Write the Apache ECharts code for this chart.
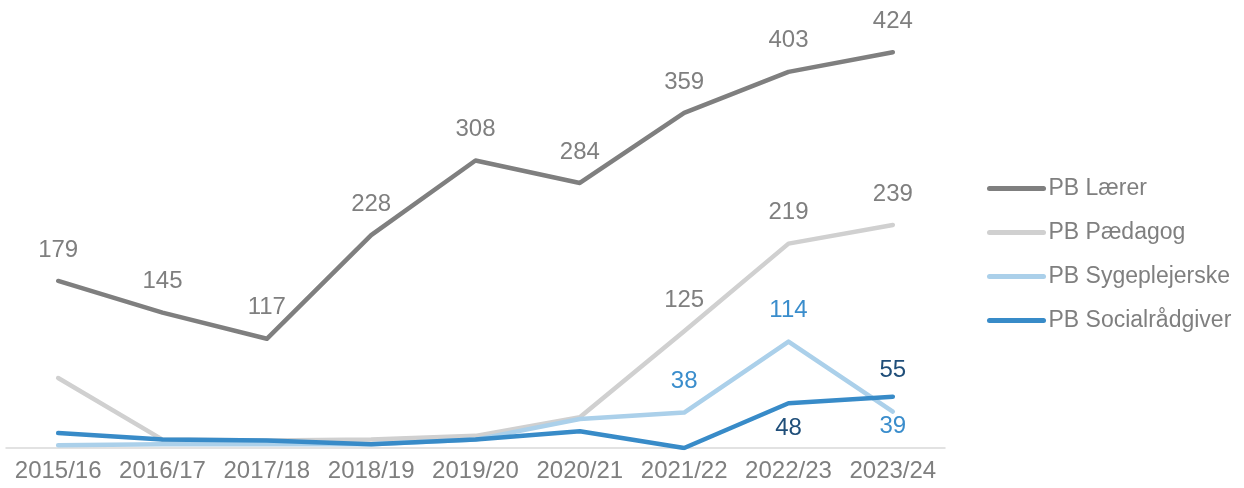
<!DOCTYPE html>
<html>
<head>
<meta charset="utf-8">
<script src="https://cdn.jsdelivr.net/npm/echarts@6/dist/echarts.min.js"></script>
<style>
  html, body { margin: 0; padding: 0; background: #ffffff; }
  #chart { width: 1244px; height: 488px; }
</style>
</head>
<body>
<div id="chart"></div>
<script>
var categories = ["2015/16", "2016/17", "2017/18", "2018/19", "2019/20", "2020/21", "2021/22", "2022/23", "2023/24"];
var seriesNames = ["PB Lærer", "PB Pædagog", "PB Sygeplejerske", "PB Socialrådgiver"];
var laerer = [179, 145, 117, 228, 308, 284, 359, 403, 424];
var paedagog = [75, 9, 8, 9, 13, 33, 125, 219, 239];
var sygeplejerske = [3, 4, 4, 4, 9, 31, 38, 114, 39];
var socialraadgiver = [16, 9, 8, 4, 9, 18, 0, 48, 55];

// which points carry a value label: [position, distance]
var T = ["top", 19];
var labelPos = [
    [T, T, T, T, T, T, T, T, T],
    [null, null, null, null, null, null, T, T, T],
    [null, null, null, null, null, null, T, T, ["bottom", 3]],
    [null, null, null, null, null, null, null, ["bottom", 13], ["top", 14]]
];

var lineColors = ["#7f7f7f", "#d0d0d0", "#abd0ea", "#388bc8"];
var labelColors = ["#7f7f7f", "#7f7f7f", "#3a8dcc", "#1f4e79"];
var font = "'Liberation Sans', Arial, sans-serif";

function buildData(values, positions, idx) {
    return values.map(function (v, i) {
        var pos = positions[i];
        if (!pos) return { value: v, label: { show: false } };
        return {
            value: v,
            label: {
                show: true,
                position: pos[0],
                distance: pos[1],
                color: labelColors[idx],
                fontSize: 24,
                fontFamily: font
            }
        };
    });
}

var allValues = [laerer, paedagog, sygeplejerske, socialraadgiver];
var series = allValues.map(function (vals, idx) {
    return {
        name: seriesNames[idx],
        type: "line",
        symbol: "circle",
        symbolSize: 0,
        showSymbol: true,
        lineStyle: { width: 4.5, color: lineColors[idx], cap: "round", join: "round" },
        itemStyle: { color: lineColors[idx] },
        data: buildData(vals, labelPos[idx], idx)
    };
});

var chart = echarts.init(document.getElementById("chart"), null, { renderer: "canvas" });
chart.setOption({
    backgroundColor: "#ffffff",
    animation: false,
    grid: { left: 6, right: 299, top: 28, bottom: 40, containLabel: false },
    legend: {
        orient: "vertical",
        left: 982,
        top: 172,
        itemWidth: 54,
        itemHeight: 14,
        itemGap: 21,
        itemTextGap: 4,
        itemStyle: { opacity: 0 },
        lineStyle: { width: 5, cap: "round" },
        textStyle: { color: "#7f7f7f", fontSize: 23, fontFamily: font },
        data: seriesNames
    },
    xAxis: {
        type: "category",
        data: categories,
        boundaryGap: true,
        axisLine: { lineStyle: { color: "#d9d9d9", width: 1.5 } },
        axisTick: { show: false },
        axisLabel: { color: "#7f7f7f", fontSize: 24, fontFamily: font, margin: 11, interval: 0 }
    },
    yAxis: {
        type: "value",
        min: 0,
        max: 450,
        show: false,
        splitLine: { show: false }
    },
    series: series
});
</script>
</body>
</html>
